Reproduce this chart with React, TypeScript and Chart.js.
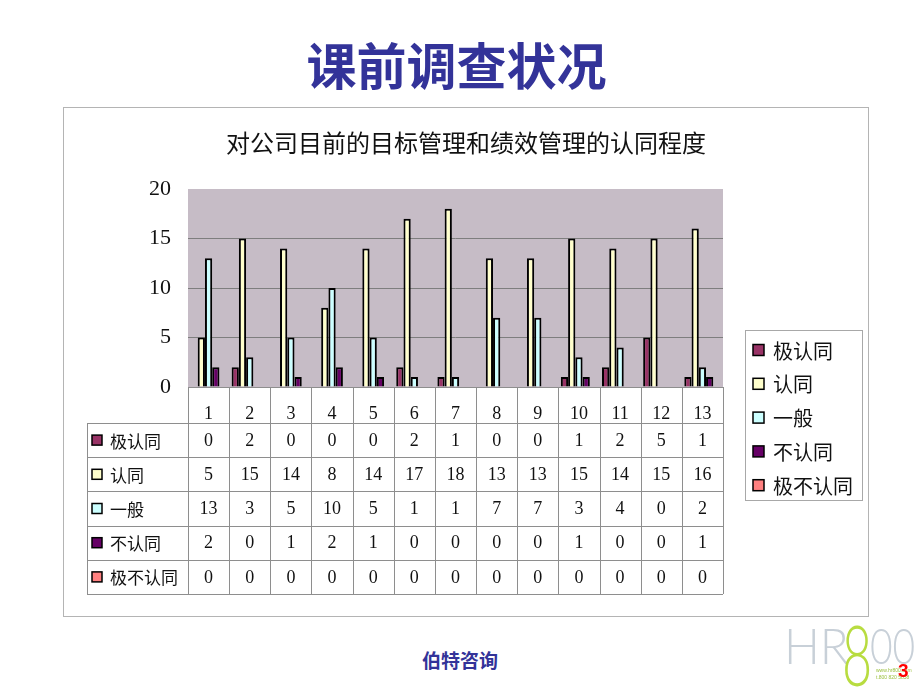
import React, { useEffect, useRef } from 'react';
import { Chart, registerables } from 'chart.js';

Chart.register(...registerables);

const categories = ['1', '2', '3', '4', '5', '6', '7', '8', '9', '10', '11', '12', '13'];
const seriesNames = ['极认同', '认同', '一般', '不认同', '极不认同'];
const veryAgree = [0, 2, 0, 0, 0, 2, 1, 0, 0, 1, 2, 5, 1];
const agree = [5, 15, 14, 8, 14, 17, 18, 13, 13, 15, 14, 15, 16];
const neutral = [13, 3, 5, 10, 5, 1, 1, 7, 7, 3, 4, 0, 2];
const disagree = [2, 0, 1, 2, 1, 0, 0, 0, 0, 1, 0, 0, 1];
const stronglyDisagree = [0, 0, 0, 0, 0, 0, 0, 0, 0, 0, 0, 0, 0];
const seriesColors = ['#993366', '#FFFFCC', '#CCFFFF', '#660066', '#FF8080'];
const yMin = 0;
const yMax = 20;
const yStep = 5;
const chartTitle = '对公司目前的目标管理和绩效管理的认同程度';
const slideTitle = '课前调查状况';
const footerText = '伯特咨询';
const pageNumber = '3';

const CJK = "'Noto Sans CJK SC', 'Noto Sans', sans-serif";
const SERIF = "'Liberation Serif', 'DejaVu Serif', serif";

const plotBgPlugin = {
  id: 'plotBg',
  beforeDraw(chart: any) {
    const { ctx, chartArea } = chart;
    ctx.save();
    ctx.fillStyle = '#c6bcc6';
    ctx.fillRect(chartArea.left, chartArea.top, chartArea.right - chartArea.left, chartArea.bottom - chartArea.top);
    ctx.restore();
  },
};

const centeredTitlePlugin = {
  id: 'centeredTitle',
  afterDraw(chart: any) {
    const { ctx, width } = chart;
    ctx.save();
    ctx.fillStyle = '#111';
    ctx.font = `24px ${CJK}`;
    ctx.textAlign = 'center';
    ctx.textBaseline = 'middle';
    ctx.fillText(chartTitle, width / 2, 35);
    ctx.restore();
  },
};

const dataTablePlugin = {
  id: 'dataTable',
  afterDraw(chart: any) {
    const { ctx, chartArea } = chart;
    const x = chart.scales.x;
    const n = chart.data.labels.length;
    const datasets = chart.data.datasets;
    const step = x.getPixelForValue(1) - x.getPixelForValue(0);
    const first = x.getPixelForValue(0) - step / 2;
    const top = chartArea.bottom;
    const headerH = 36;
    const bottom = x.bottom;
    const rowH = (bottom - top - headerH) / datasets.length;
    const labelLeft = 23;
    const px = (v: number) => Math.round(v) + 0.5;
    ctx.save();
    ctx.strokeStyle = '#8e8e8e';
    ctx.lineWidth = 1;
    ctx.beginPath();
    ctx.moveTo(chartArea.left, px(top));
    ctx.lineTo(chartArea.right, px(top));
    for (let r = 0; r <= datasets.length; r++) {
      const yy = px(top + headerH + r * rowH);
      ctx.moveTo(labelLeft, yy);
      ctx.lineTo(chartArea.right, yy);
    }
    for (let i = 0; i <= n; i++) {
      const xx = px(first + i * step);
      ctx.moveTo(xx, top);
      ctx.lineTo(xx, bottom);
    }
    ctx.moveTo(px(labelLeft), top + headerH);
    ctx.lineTo(px(labelLeft), bottom);
    ctx.stroke();

    ctx.textBaseline = 'middle';
    datasets.forEach((ds: any, r: number) => {
      const cy = top + headerH + (r + 0.5) * rowH;
      ctx.fillStyle = ds.backgroundColor;
      ctx.fillRect(labelLeft + 5, cy - 5, 10, 10);
      ctx.strokeStyle = '#000';
      ctx.lineWidth = 1.5;
      ctx.strokeRect(labelLeft + 5, cy - 5, 10, 10);
      ctx.fillStyle = '#111';
      ctx.font = `17px ${CJK}`;
      ctx.textAlign = 'left';
      ctx.fillText(ds.label, labelLeft + 23, cy + 1);
      ctx.font = `18px ${SERIF}`;
      ctx.textAlign = 'center';
      ds.data.forEach((v: number, i: number) => {
        ctx.fillText(String(v), x.getPixelForValue(i), cy + 1);
      });
    });
    ctx.restore();
  },
};

const boxedLegendPlugin = {
  id: 'boxedLegend',
  afterDraw(chart: any) {
    const { ctx } = chart;
    const datasets = chart.data.datasets;
    const boxL = 681;
    const boxT = 222;
    const boxW = 117;
    const boxH = 170;
    ctx.save();
    ctx.strokeStyle = '#a8a8a8';
    ctx.lineWidth = 1;
    ctx.strokeRect(boxL + 0.5, boxT + 0.5, boxW, boxH);
    ctx.textBaseline = 'middle';
    ctx.textAlign = 'left';
    ctx.font = `20px ${CJK}`;
    datasets.forEach((ds: any, i: number) => {
      const cy = boxT + 20 + i * 33.8;
      ctx.fillStyle = ds.backgroundColor;
      ctx.fillRect(boxL + 8, cy - 5.5, 11, 11);
      ctx.strokeStyle = '#000';
      ctx.lineWidth = 1.5;
      ctx.strokeRect(boxL + 8, cy - 5.5, 11, 11);
      ctx.fillStyle = '#111';
      ctx.fillText(ds.label, boxL + 28, cy + 1);
    });
    ctx.restore();
  },
};

function SurveyChart() {
  const canvasRef = useRef<HTMLCanvasElement | null>(null);
  useEffect(() => {
    if (!canvasRef.current) return;
    const seriesValues = [veryAgree, agree, neutral, disagree, stronglyDisagree];
    const chart = new Chart(canvasRef.current, {
      type: 'bar',
      data: {
        labels: categories,
        datasets: seriesNames.map((name, i) => ({
          label: name,
          data: seriesValues[i],
          backgroundColor: seriesColors[i],
          borderColor: '#000000',
          borderWidth: 2,
          categoryPercentage: 0.88,
          barPercentage: 1.0,
        })),
      },
      options: {
        responsive: false,
        animation: false,
        layout: { padding: { left: 0, top: 81, right: 145, bottom: 22 } },
        plugins: {
          legend: { display: false },
          tooltip: { enabled: false },
          title: { display: false },
        },
        scales: {
          x: {
            grid: { display: false },
            border: { display: false },
            ticks: { color: '#111', font: { family: SERIF, size: 18 }, padding: 8, maxRotation: 0 },
            afterFit: (scale: any) => { scale.height = 207; },
          },
          y: {
            min: yMin,
            max: yMax,
            border: { display: false },
            grid: {
              drawTicks: false,
              color: (c: any) => (c.tick && c.tick.value === yMax ? 'rgba(0,0,0,0)' : '#7e7e7e'),
            },
            ticks: { stepSize: yStep, color: '#111', font: { family: SERIF, size: 22 }, padding: 17 },
            afterFit: (scale: any) => { scale.width = 124; },
          },
        },
      },
      plugins: [plotBgPlugin, dataTablePlugin, boxedLegendPlugin, centeredTitlePlugin],
    } as any);
    return () => chart.destroy();
  }, []);
  return <canvas ref={canvasRef} width={804} height={508} style={{ display: 'block', width: 804, height: 508 }} />;
}

export default function App() {
  return (
    <div style={{ position: 'absolute', left: 0, top: 0, width: 920, height: 690, background: '#fff', overflow: 'hidden' }}>
      <div
        style={{
          position: 'absolute', left: 0, top: 35, width: 913, textAlign: 'center',
          fontFamily: CJK, fontWeight: 700, fontSize: 50, lineHeight: '56px', color: '#333399',
        }}
      >
        {slideTitle}
      </div>
      <div
        style={{
          position: 'absolute', left: 63, top: 107, width: 806, height: 510,
          border: '1px solid #b4b4b4', boxSizing: 'border-box',
        }}
      >
        <SurveyChart />
      </div>
      <div
        style={{
          position: 'absolute', left: 0, top: 648, width: 920, textAlign: 'center',
          fontFamily: CJK, fontWeight: 700, fontSize: 19, lineHeight: '24px', color: '#333399',
        }}
      >
        {footerText}
      </div>
      <div style={{ position: 'absolute', left: 784, top: 618, fontFamily: 'Lato, sans-serif', fontWeight: 300, fontSize: 50, lineHeight: '54px', color: '#c8d0d8', transform: 'scaleX(0.95)', transformOrigin: 'left top' }}>HR</div>
      <div style={{ position: 'absolute', left: 842, top: 612, fontFamily: 'Lato, sans-serif', fontWeight: 300, fontSize: 84, lineHeight: '84px', color: '#b8dc40', transform: 'scaleX(0.62)', transformOrigin: 'left top' }}>8</div>
      <div style={{ position: 'absolute', left: 870, top: 618, fontFamily: 'Lato, sans-serif', fontWeight: 300, fontSize: 50, lineHeight: '54px', color: '#c8d0d8', transform: 'scaleX(0.78)', transformOrigin: 'left top' }}>00</div>
      <div style={{ position: 'absolute', left: 876, top: 667, fontFamily: 'sans-serif', fontSize: 5, lineHeight: '7px', color: '#9cc040' }}>www.hr800.com<br />t.800 820 5858</div>
      <div style={{ position: 'absolute', left: 898, top: 661, fontFamily: 'Liberation Sans, Arial, sans-serif', fontWeight: 700, fontSize: 19, lineHeight: '20px', color: '#ff0000' }}>{pageNumber}</div>
    </div>
  );
}
